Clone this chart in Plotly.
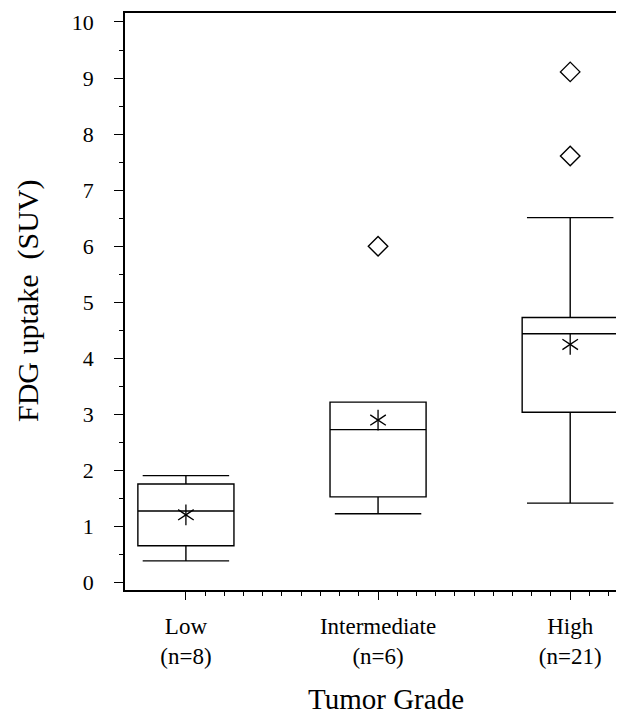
import numpy as np
import plotly.graph_objects as go

# ---- data ----
grades = ["Low", "Intermediate", "High"]
counts = [8, 6, 21]
q1 = [0.66, 1.53, 3.04]
median = [1.28, 2.73, 4.44]
q3 = [1.76, 3.22, 4.73]
lower_whisker = [0.39, 1.23, 1.42]
upper_whisker = [1.91, 3.22, 6.51]
means = [1.21, 2.90, 4.25]
outlier_grade = [1, 2, 2]
outlier_values = [6.0, 7.61, 9.11]

xpos = list(range(len(grades)))
ticktext = [f"{g}<br>(n={n})" for g, n in zip(grades, counts)]

FONT = "Liberation Serif, Times New Roman, serif"

# page body has an 8px margin; figure is sized to fit the 624x718 window
OFF = 8
W, H = 624 - OFF, 718 - OFF
ML, MT, MR = 125 - OFF, 13 - OFF, 0
MB = H - (590 - OFF)

fig = go.Figure()

fig.add_trace(go.Box(
    x=xpos, q1=q1, median=median, q3=q3,
    lowerfence=lower_whisker, upperfence=upper_whisker,
    width=0.5, whiskerwidth=0.9,
    line=dict(color="black", width=1.4),
    fillcolor="rgba(255,255,255,0)",
    boxpoints=False, hoverinfo="skip", showlegend=False,
))

# mean markers (six-armed asterisk = y-up + y-down)
for sym in ["y-up-open", "y-down-open"]:
    fig.add_trace(go.Scatter(
        x=xpos, y=means, mode="markers",
        marker=dict(symbol=sym, size=13, color="black",
                    line=dict(color="black", width=1.3)),
        hoverinfo="skip", showlegend=False,
    ))

# outliers
fig.add_trace(go.Scatter(
    x=outlier_grade, y=outlier_values, mode="markers",
    marker=dict(symbol="diamond-open", size=15, color="black",
                line=dict(color="black", width=1.4)),
    hoverinfo="skip", showlegend=False,
))

minor_x = [round(v, 2) for v in np.arange(0.1, 2.25, 0.1) if abs(v - round(v)) > 1e-6]

pw, ph = W - ML - MR, H - MT - MB


def px2paper(px, py):
    # px, py in reference-window pixels
    return ((px - OFF) - ML) / pw, (H - MB - (py - OFF)) / ph


tx, ty = px2paper(386, 717)
yx, yy = px2paper(28, 301)

fig.update_layout(
    width=W, height=H,
    margin=dict(l=ML, r=MR, t=MT, b=MB, autoexpand=False),
    plot_bgcolor="white", paper_bgcolor="white",
    font=dict(family=FONT, color="black"),
    xaxis=dict(
        range=[-0.317, 2.28],
        tickmode="array", tickvals=xpos, ticktext=ticktext,
        ticks="outside", ticklen=8, tickwidth=1.4, tickcolor="black",
        tickfont=dict(family=FONT, size=23, color="black"),
        ticklabelstandoff=7,
        minor=dict(tickmode="array", tickvals=minor_x, ticks="outside",
                   ticklen=4, tickwidth=1.2, tickcolor="black"),
        showline=True, linecolor="black", linewidth=1.5, mirror=True,
        showgrid=False, zeroline=False,
    ),
    yaxis=dict(
        range=[-0.13, 10.16],
        tickmode="array", tickvals=list(range(0, 11)),
        ticks="outside", ticklen=9, tickwidth=1.4, tickcolor="black",
        tickfont=dict(family=FONT, size=22, color="black"),
        ticklabelstandoff=16,
        minor=dict(tickmode="array", tickvals=[i + 0.5 for i in range(10)],
                   ticks="outside", ticklen=4, tickwidth=1.2, tickcolor="black"),
        showline=True, linecolor="black", linewidth=1.5,
        showgrid=False, zeroline=False,
    ),
    annotations=[
        dict(text="Tumor Grade", x=tx, y=ty, xref="paper", yref="paper",
             xanchor="center", yanchor="bottom", showarrow=False,
             font=dict(family=FONT, size=29, color="black")),
        dict(text="FDG uptake&nbsp;&nbsp;(SUV)", x=yx, y=yy, xref="paper", yref="paper",
             xanchor="center", yanchor="middle", textangle=-90, showarrow=False,
             font=dict(family=FONT, size=30, color="black")),
    ],
)

fig.write_html("out.html", config={"displayModeBar": False})
